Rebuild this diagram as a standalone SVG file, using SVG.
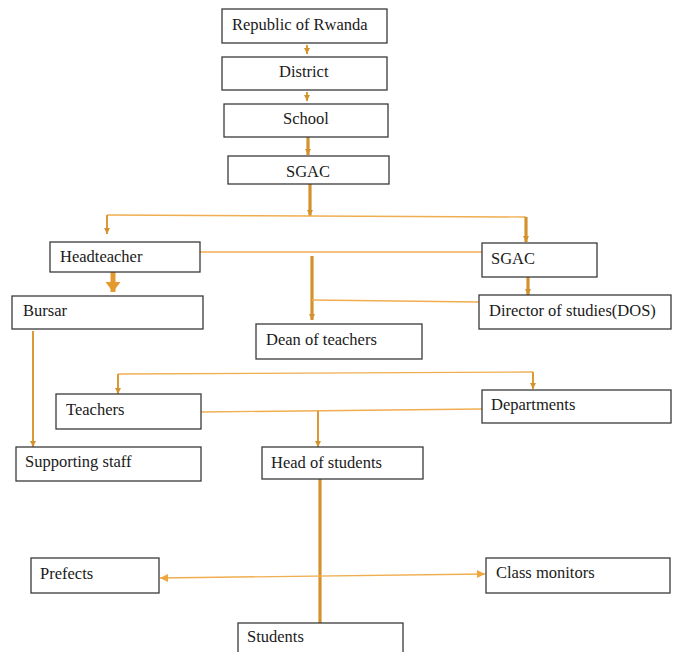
<svg xmlns="http://www.w3.org/2000/svg" width="678" height="652" viewBox="0 0 678 652">
<style>
.box{fill:#fff;stroke:#3a3a3a;stroke-width:1.3}
.t{font-family:'Liberation Serif','DejaVu Serif',serif;font-size:16.5px;fill:#1a1a1a}
.thin{stroke:#F0AE50;stroke-width:1.4;fill:none}
.mid{stroke:#DC9A36;stroke-width:2;fill:none}
.thick{stroke:#D4922E;stroke-width:3.2;fill:none}
</style>
<defs>
<marker id="ah" markerUnits="userSpaceOnUse" markerWidth="8" markerHeight="8" refX="6" refY="4" orient="auto">
<path d="M0,1 L6,4 L0,7 Z" fill="#D4922E"/>
</marker>
<marker id="ahs" markerUnits="userSpaceOnUse" markerWidth="10" markerHeight="10" refX="8" refY="5" orient="auto-start-reverse">
<path d="M0,1 L8,5 L0,9 Z" fill="#F0A540"/>
</marker>
<marker id="big" markerUnits="userSpaceOnUse" markerWidth="12" markerHeight="18" refX="10" refY="9" orient="auto">
<path d="M0,1.5 L10,9 L0,16.5 Z" fill="#E49A2E"/>
</marker>
</defs>
<g id="connectors">
<line class="mid" x1="307" y1="45" x2="307" y2="54" marker-end="url(#ah)"/>
<line class="mid" x1="307" y1="92" x2="307" y2="101" marker-end="url(#ah)"/>
<line class="thick" x1="308" y1="137" x2="308" y2="155" marker-end="url(#ah)"/>
<line class="thick" x1="310" y1="184" x2="310" y2="216" marker-end="url(#ah)"/>
<polyline class="thin" points="107,215 310,216 526,217"/>
<line class="mid" x1="107" y1="215" x2="107" y2="234" marker-end="url(#ah)"/>
<line class="thick" x1="526" y1="217" x2="526" y2="242" marker-end="url(#ah)"/>
<line class="thin" x1="200" y1="252" x2="482" y2="252"/>
<line stroke="#E49A2E" stroke-width="5" x1="113" y1="272" x2="113" y2="292" marker-end="url(#big)"/>
<line class="thick" x1="312" y1="256" x2="312" y2="320" marker-end="url(#ah)"/>
<polyline class="thin" points="312,300 479,302"/>
<line class="thick" x1="528" y1="277" x2="528" y2="295" marker-end="url(#ah)"/>
<line class="mid" x1="33" y1="331" x2="33" y2="447" marker-end="url(#ah)"/>
<polyline class="thin" points="118,374 533,372"/>
<line class="mid" x1="118" y1="374" x2="118" y2="394" marker-end="url(#ah)"/>
<line class="mid" x1="533" y1="372" x2="533" y2="389" marker-end="url(#ah)"/>
<line class="thin" x1="201" y1="412" x2="482" y2="409"/>
<line class="mid" x1="318" y1="411" x2="318" y2="447" marker-end="url(#ah)"/>
<line class="thick" x1="320" y1="479" x2="320" y2="623"/>
<line class="thin" x1="160" y1="578" x2="485" y2="574" marker-start="url(#ahs)" marker-end="url(#ahs)"/>
</g>
<g id="republic"><rect class="box" x="222" y="9" width="165" height="34"/><text class="t" x="232" y="30">Republic of Rwanda</text></g>
<g id="district"><rect class="box" x="222" y="57" width="165" height="33"/><text class="t" x="279" y="77">District</text></g>
<g id="school"><rect class="box" x="224" y="104" width="164" height="33"/><text class="t" x="283" y="124">School</text></g>
<g id="sgac-top"><rect class="box" x="228" y="156" width="161" height="28"/><text class="t" x="286" y="177">SGAC</text></g>
<g id="headteacher"><rect class="box" x="50" y="242" width="150" height="30"/><text class="t" x="60" y="262">Headteacher</text></g>
<g id="sgac-right"><rect class="box" x="482" y="243" width="115" height="34"/><text class="t" x="491" y="264">SGAC</text></g>
<g id="bursar"><rect class="box" x="12" y="296" width="191" height="33"/><text class="t" x="23" y="316">Bursar</text></g>
<g id="dos"><rect class="box" x="479" y="295" width="192" height="34"/><text class="t" x="489" y="316">Director of studies(DOS)</text></g>
<g id="dean"><rect class="box" x="256" y="324" width="166" height="35"/><text class="t" x="266" y="345">Dean of teachers</text></g>
<g id="teachers"><rect class="box" x="56" y="394" width="145" height="35"/><text class="t" x="66" y="415">Teachers</text></g>
<g id="departments"><rect class="box" x="482" y="390" width="189" height="33"/><text class="t" x="491" y="410">Departments</text></g>
<g id="supporting"><rect class="box" x="16" y="447" width="185" height="34"/><text class="t" x="25" y="467">Supporting staff</text></g>
<g id="head-students"><rect class="box" x="262" y="447" width="161" height="32"/><text class="t" x="271" y="468">Head of students</text></g>
<g id="prefects"><rect class="box" x="31" y="558" width="128" height="35"/><text class="t" x="40" y="579">Prefects</text></g>
<g id="class-monitors"><rect class="box" x="486" y="558" width="184" height="35"/><text class="t" x="496" y="578">Class monitors</text></g>
<g id="students"><rect class="box" x="238" y="623" width="165" height="40"/><text class="t" x="247" y="642">Students</text></g>
</svg>
